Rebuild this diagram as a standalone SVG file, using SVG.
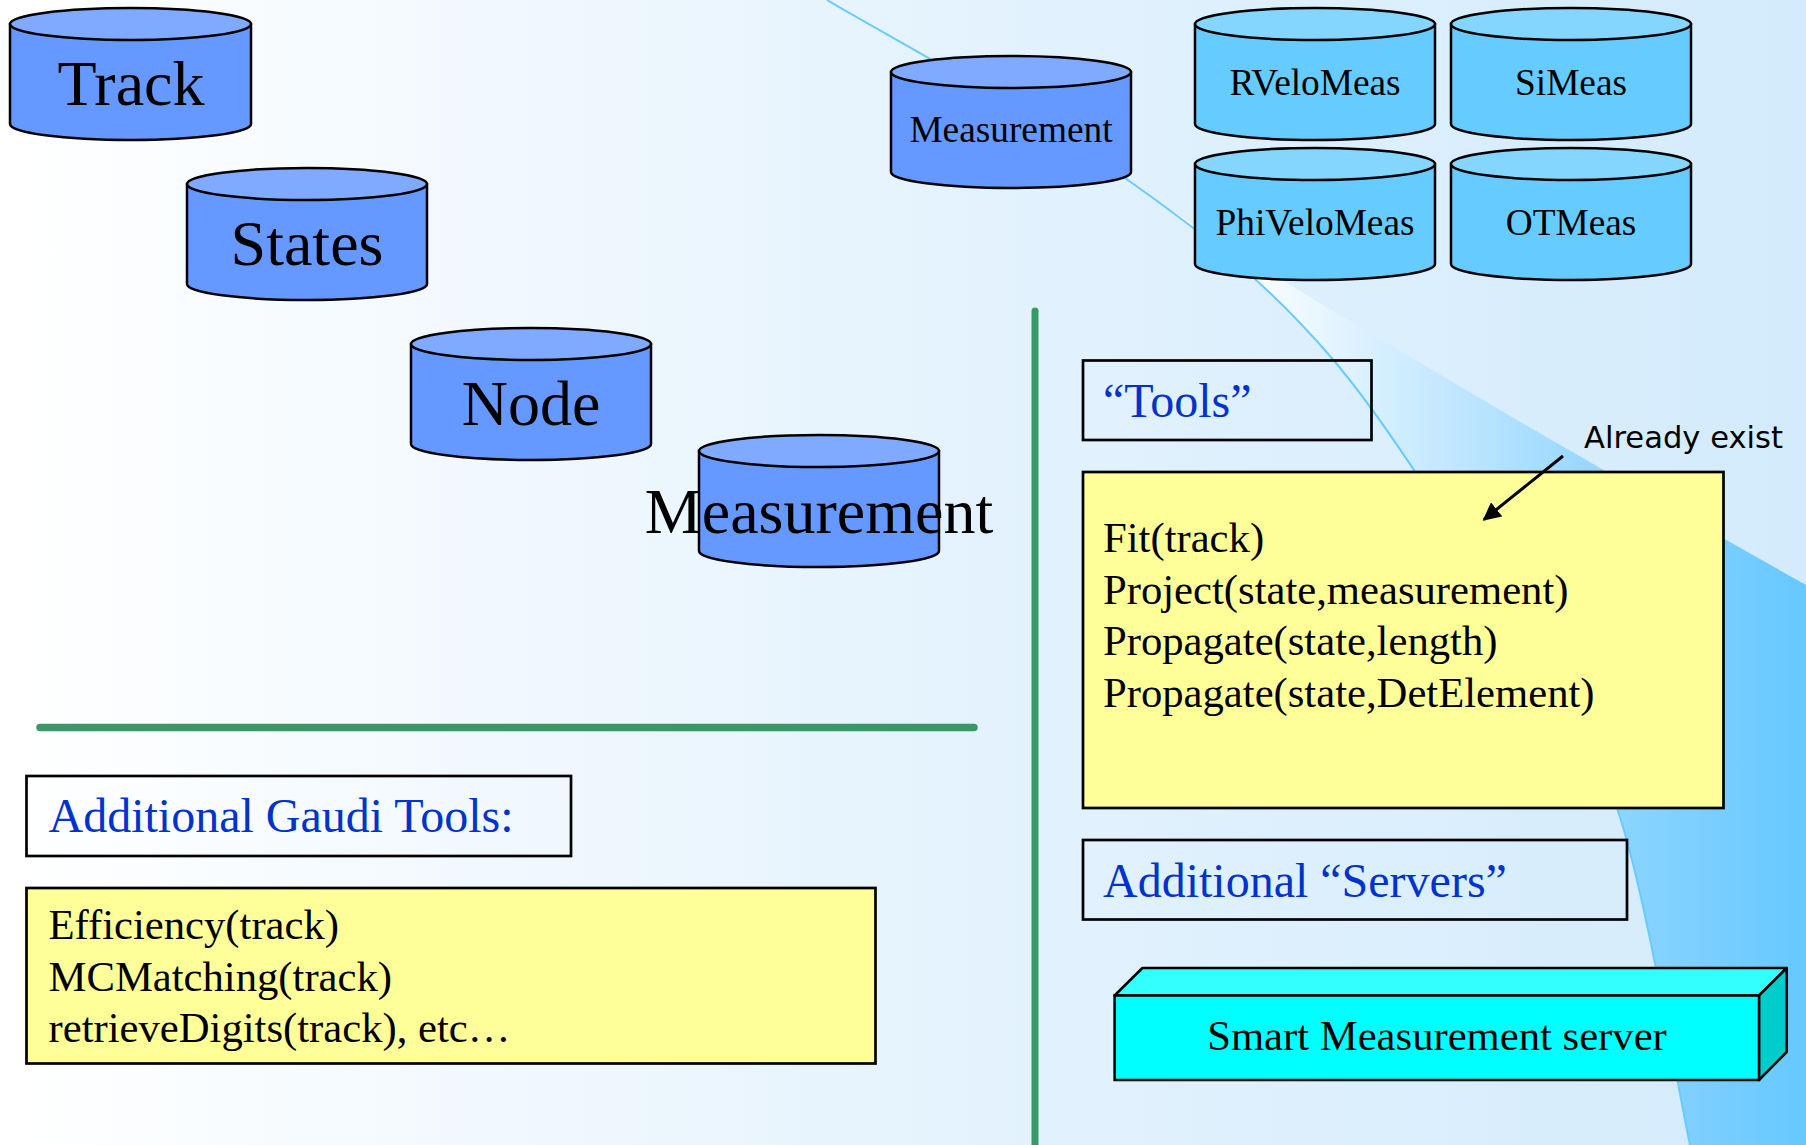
<svg xmlns="http://www.w3.org/2000/svg" width="1806" height="1145" viewBox="0 0 1806 1145">
  <defs>
    <linearGradient id="bg" x1="0" y1="0" x2="1806" y2="0" gradientUnits="userSpaceOnUse">
      <stop offset="0" stop-color="#ffffff"/>
      <stop offset="0.55" stop-color="#e3f2fd"/>
      <stop offset="1" stop-color="#d3ebfc"/>
    </linearGradient>
    <linearGradient id="wedge" x1="1240" y1="0" x2="1806" y2="0" gradientUnits="userSpaceOnUse">
      <stop offset="0" stop-color="#ffffff"/>
      <stop offset="0.45" stop-color="#b4e2ff"/>
      <stop offset="0.7" stop-color="#88d3ff"/>
      <stop offset="1" stop-color="#66c8ff"/>
    </linearGradient>
    <marker id="arrow" viewBox="0 0 10 10" refX="9" refY="5" markerWidth="6" markerHeight="6" markerUnits="strokeWidth" orient="auto">
      <path d="M0,0 L10,5 L0,10 z" fill="#000"/>
    </marker>
    <style>
      .cyl-body { fill: #6699ff; stroke: #000; stroke-width: 2.5; }
      .cyl-top { fill: #80aaff; stroke: #000; stroke-width: 2.5; }
      .cyl2-body { fill: #66ccff; stroke: #000; stroke-width: 2.5; }
      .cyl2-top { fill: #85d6ff; stroke: #000; stroke-width: 2.5; }
      .big { font-family: "Liberation Serif", "Times New Roman", serif; font-size: 64px; fill: #000; text-anchor: middle; }
      .small { font-family: "Liberation Serif", "Times New Roman", serif; font-size: 37.33px; fill: #000; text-anchor: middle; }
      .body { font-family: "Liberation Serif", "Times New Roman", serif; font-size: 42.67px; fill: #000; }
      .head { font-family: "Liberation Serif", "Times New Roman", serif; font-size: 48px; fill: #0033cc; }
      .frame { fill: none; stroke: #000; stroke-width: 2.7; }
      .note { fill: #ffff99; stroke: #000; stroke-width: 2.7; }
      .rule { stroke: #389868; stroke-linecap: round; fill: none; }
    </style>
  </defs>

  <!-- backdrop -->
  <rect x="0" y="0" width="1806" height="1145" fill="url(#bg)"/>
  <path d="M1122,177 Q1300,300 1806,585 L1806,1145 L1690,1145 C1677.8,1088.8 1646.2,893.8 1617,808 C1587.8,722.2 1562.8,705.3 1515,630 C1467.2,554.7 1395,431.3 1330,356 C1265,280.7 1208.8,237.3 1122,177 Z" fill="url(#wedge)"/>
  <path d="M827,0 C876.7,29.7 1041.2,118.7 1125,178 C1208.8,237.3 1265,280.7 1330,356 C1395,431.3 1467.2,554.7 1515,630 C1562.8,705.3 1587.8,722.2 1617,808 C1646.2,893.8 1677.8,1088.8 1690,1145" fill="none" stroke="#66ccff" stroke-width="2"/>

  <!-- separators -->
  <line class="rule" x1="40" y1="727.5" x2="974" y2="727.5" stroke-width="7.5"/>
  <line class="rule" x1="1035" y1="311" x2="1035" y2="1150" stroke-width="7"/>

  <!-- data object cylinders -->
  <g id="track">
    <path class="cyl-body" d="M10,24 V124 A120.5,16 0 0 0 251,124 V24 Z"/>
    <ellipse class="cyl-top" cx="130.5" cy="24" rx="120.5" ry="16"/>
    <text class="big" x="131" y="104.5">Track</text>
  </g>
  <g id="states">
    <path class="cyl-body" d="M187,184 V284 A120,16 0 0 0 427,284 V184 Z"/>
    <ellipse class="cyl-top" cx="307" cy="184" rx="120" ry="16"/>
    <text class="big" x="307" y="264.5">States</text>
  </g>
  <g id="node">
    <path class="cyl-body" d="M411,344 V444 A120,16 0 0 0 651,444 V344 Z"/>
    <ellipse class="cyl-top" cx="531" cy="344" rx="120" ry="16"/>
    <text class="big" x="531" y="424.5">Node</text>
  </g>
  <g id="measurement-main">
    <path class="cyl-body" d="M699,451 V551 A120,16 0 0 0 939,551 V451 Z"/>
    <ellipse class="cyl-top" cx="819" cy="451" rx="120" ry="16"/>
    <text class="big" x="819" y="532.5">Measurement</text>
  </g>
  <g id="measurement-base">
    <path class="cyl-body" d="M891,72 V172 A120,16 0 0 0 1131,172 V72 Z"/>
    <ellipse class="cyl-top" cx="1011" cy="72" rx="120" ry="16"/>
    <text class="small" x="1011" y="142">Measurement</text>
  </g>
  <g id="rvelomeas">
    <path class="cyl2-body" d="M1195,24 V124 A120,16 0 0 0 1435,124 V24 Z"/>
    <ellipse class="cyl2-top" cx="1315" cy="24" rx="120" ry="16"/>
    <text class="small" x="1315" y="94.5">RVeloMeas</text>
  </g>
  <g id="simeas">
    <path class="cyl2-body" d="M1451,24 V124 A120,16 0 0 0 1691,124 V24 Z"/>
    <ellipse class="cyl2-top" cx="1571" cy="24" rx="120" ry="16"/>
    <text class="small" x="1571" y="94.5">SiMeas</text>
  </g>
  <g id="phivelomeas">
    <path class="cyl2-body" d="M1195,164 V264 A120,16 0 0 0 1435,264 V164 Z"/>
    <ellipse class="cyl2-top" cx="1315" cy="164" rx="120" ry="16"/>
    <text class="small" x="1315" y="234.5">PhiVeloMeas</text>
  </g>
  <g id="otmeas">
    <path class="cyl2-body" d="M1451,164 V264 A120,16 0 0 0 1691,264 V164 Z"/>
    <ellipse class="cyl2-top" cx="1571" cy="164" rx="120" ry="16"/>
    <text class="small" x="1571" y="234.5">OTMeas</text>
  </g>

  <!-- tool panels -->
  <g id="gaudi-tools-title">
    <rect class="frame" x="26.5" y="776" width="544.5" height="80"/>
    <text class="head" x="48.5" y="832">Additional Gaudi Tools:</text>
  </g>
  <g id="gaudi-tools-list">
    <rect class="note" x="26.5" y="888" width="849" height="175.5"/>
    <text class="body" x="48.5" y="939">Efficiency(track)</text>
    <text class="body" x="48.5" y="990.5">MCMatching(track)</text>
    <text class="body" x="48.5" y="1042">retrieveDigits(track), etc…</text>
  </g>
  <g id="tools-title">
    <rect class="frame" x="1083" y="360.5" width="288.5" height="79.5"/>
    <text class="head" x="1103" y="416.5">“Tools”</text>
  </g>
  <g id="tools-list">
    <rect class="note" x="1083" y="472" width="640.5" height="336"/>
    <text class="body" x="1103" y="552">Fit(track)</text>
    <text class="body" x="1103" y="603.5">Project(state,measurement)</text>
    <text class="body" x="1103" y="655">Propagate(state,length)</text>
    <text class="body" x="1103" y="706.5">Propagate(state,DetElement)</text>
  </g>
  <g id="already-exist">
    <text x="1584" y="448" font-family="'DejaVu Sans', sans-serif" font-size="30" textLength="199" lengthAdjust="spacingAndGlyphs" fill="#000">Already exist</text>
  </g>
  <g id="servers-title">
    <rect class="frame" x="1083" y="840" width="544" height="79.5"/>
    <text class="head" x="1103" y="896.5">Additional “Servers”</text>
  </g>
  <g id="smart-measurement-server">
    <polygon points="1114.6,995.5 1142.4,968 1786.7,968 1759,995.5" fill="#33ffff" stroke="#000" stroke-width="2.5" stroke-linejoin="round"/>
    <polygon points="1759,995.5 1786.7,968 1786.7,1052 1759,1080" fill="#00cccc" stroke="#000" stroke-width="2.5" stroke-linejoin="round"/>
    <rect x="1114.6" y="995.5" width="644.4" height="84.5" fill="#00ffff" stroke="#000" stroke-width="2.5"/>
    <text class="body" x="1437" y="1050" text-anchor="middle">Smart Measurement server</text>
  </g>

  <!-- connectors -->
  <g id="connectors">
    <line x1="1563" y1="456" x2="1484" y2="519.5" stroke="#000" stroke-width="3" marker-end="url(#arrow)"/>
  </g>
</svg>
